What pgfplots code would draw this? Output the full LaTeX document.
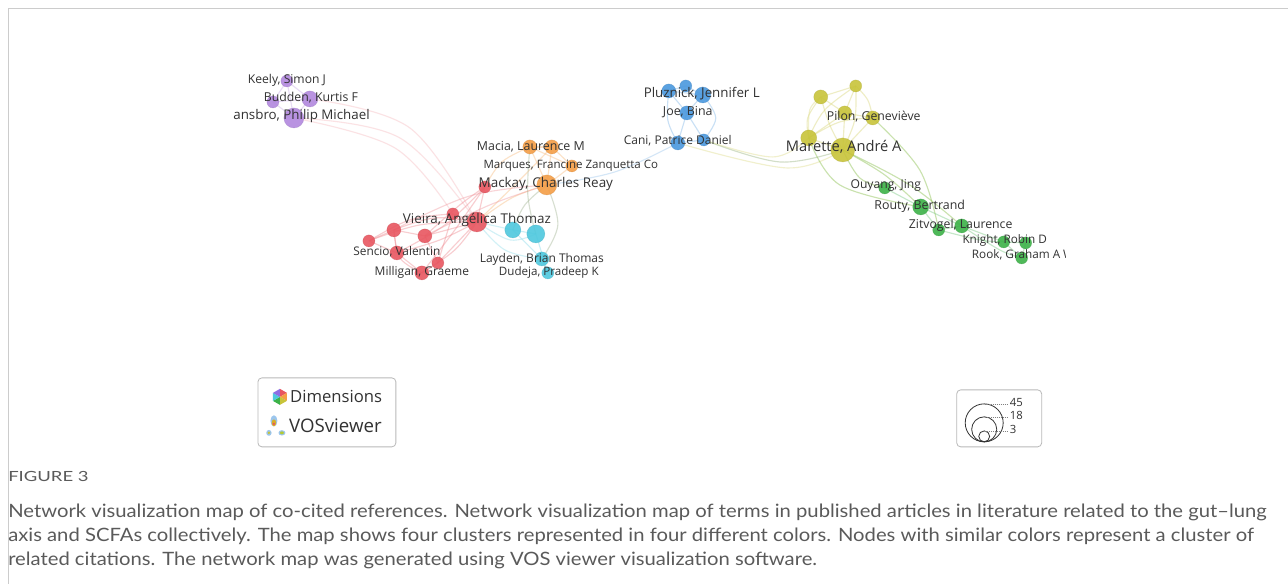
\documentclass[border=0pt]{standalone}
\usepackage{pgfplots}
\pgfplotsset{compat=1.18}
\usepackage{pgfplotstable}
\usepackage{graphicx}
\usepackage{fontspec}
\setmainfont{Open Sans}
\newfontfamily\capfont[FakeStretch=1.1]{Lato}
\definecolor{cred}{RGB}{232,86,96}
\definecolor{corange}{RGB}{245,158,70}
\definecolor{ccyan}{RGB}{78,200,222}
\definecolor{cblue}{RGB}{74,152,222}
\definecolor{cyellow}{RGB}{200,196,58}
\definecolor{cgreen}{RGB}{60,178,72}
\definecolor{cpurple}{RGB}{178,136,222}
\definecolor{lbl}{RGB}{50,50,50}
\definecolor{capgray}{RGB}{90,90,90}

\pgfplotstableread{
x y r
287 81 6
273 102 6
310 99 8
294 118 10
}\tpurple
\pgfplotstableread{
x y r
477 222 10
485 187 6
453 214 6
394 230 7
425 236 7
369 241 6
397 253 7
438 263 6
422 273 7
}\tred
\pgfplotstableread{
x y r
530 147 7
552 147 7
572 166 6
547 185 10
}\torange
\pgfplotstableread{
x y r
513 230 8
536 234 9
542 259 7
548 273 6
}\tcyan
\pgfplotstableread{
x y r
669 91 7
686 86 6
703 95 8
687 113 7
678 143 7
704 140 6
}\tblue
\pgfplotstableread{
x y r
821 97 7
856 86 6
845 113 7
873 118 7
809 138 8
843 150 12
}\tyellow
\pgfplotstableread{
x y r
885 188 6
921 207 8
939 230 6
962 226 7
1004 242 6
1026 243 6
1022 258 6
}\tgreen

\pgfplotsset{
  netnode/.style={scatter, only marks, mark=*,
    scatter/use mapped color={draw=#1!85!black, fill=#1, fill opacity=0.9, draw opacity=0.4},
    point meta=\thisrow{r},
    visualization depends on={\thisrow{r}\as\rr},
    scatter/@pre marker code/.append style={/tikz/mark size=0.75*\rr}},
  edge/.style={#1, line width=0.85pt, opacity=0.42, smooth, no markers, tension=0.6}
}
\newcommand\ed[7]{\addplot[edge=#7] coordinates {(#1,#2) (#3,#4) (#5,#6)};}
\newcommand\es[5]{\addplot[edge=#5] coordinates {(#1,#2) (#3,#4)};}

\begin{document}
\begin{tikzpicture}
\begin{axis}[width=966pt, height=438pt, scale only axis, set layers,
  xmin=0, xmax=1288, ymin=0, ymax=584, y dir=reverse,
  hide axis, clip=false]
\begin{pgfonlayer}{axis background}
\fill[white] (axis cs:0,0) rectangle (axis cs:1288,584);
\draw[gray!40, line width=0.6pt] (axis cs:8,584) -- (axis cs:8,8) -- (axis cs:1288,8);
\end{pgfonlayer}

% ---- edges: purple
\es{287}{81}{310}{99}{cpurple!70}
\es{287}{81}{273}{102}{cpurple!70}
\es{273}{102}{294}{118}{cpurple!70}
\es{310}{99}{294}{118}{cpurple!70}
\es{273}{102}{310}{99}{cpurple!70}
\es{287}{81}{294}{118}{cpurple!70}
% purple -> red
\ed{294}{118}{400}{138}{477}{222}{cred!40}
\ed{310}{99}{410}{128}{477}{222}{cred!40}
\ed{294}{118}{395}{148}{453}{214}{cred!40}
% red internal
\es{477}{222}{485}{187}{cred!70}
\es{477}{222}{453}{214}{cred!70}
\ed{477}{222}{435}{218}{394}{230}{cred!70}
\es{477}{222}{425}{236}{cred!70}
\ed{477}{222}{420}{225}{369}{241}{cred!70}
\ed{477}{222}{440}{240}{397}{253}{cred!70}
\es{477}{222}{438}{263}{cred!70}
\ed{477}{222}{455}{250}{422}{273}{cred!70}
\es{394}{230}{425}{236}{cred!70}
\es{394}{230}{397}{253}{cred!70}
\es{369}{241}{397}{253}{cred!70}
\es{397}{253}{422}{273}{cred!70}
\es{438}{263}{422}{273}{cred!70}
\es{425}{236}{438}{263}{cred!70}
\ed{394}{230}{400}{258}{422}{273}{cred!70}
\ed{369}{241}{410}{220}{453}{214}{cred!70}
\ed{397}{253}{445}{225}{485}{187}{cred!70}
\ed{422}{273}{455}{230}{485}{187}{cred!70}
\es{453}{214}{438}{263}{cred!70}
\es{369}{241}{394}{230}{cred!70}
\ed{425}{236}{460}{205}{485}{187}{cred!70}
% red -> orange / cyan
\ed{477}{222}{512}{198}{547}{185}{corange!70}
\ed{485}{187}{502}{162}{530}{147}{corange!70}
\ed{477}{222}{520}{180}{552}{147}{corange!70}
\ed{394}{230}{470}{196}{547}{185}{cred!60}
\ed{425}{236}{490}{205}{547}{185}{cred!60}
\es{477}{222}{513}{230}{ccyan!60}
\ed{477}{222}{510}{240}{536}{234}{ccyan!60}
\ed{477}{222}{505}{250}{542}{259}{ccyan!60}
% orange internal
\es{530}{147}{552}{147}{corange!70}
\es{530}{147}{547}{185}{corange!70}
\es{552}{147}{547}{185}{corange!70}
\es{572}{166}{547}{185}{corange!70}
\es{530}{147}{572}{166}{corange!70}
\es{552}{147}{572}{166}{corange!70}
% orange -> cyan
\ed{547}{185}{525}{205}{513}{230}{corange!50!ccyan}
\ed{547}{185}{558}{225}{542}{259}{corange!50!ccyan}
\ed{530}{147}{528}{195}{536}{234}{corange!50!ccyan}
% cyan internal
\es{513}{230}{536}{234}{ccyan!70}
\es{513}{230}{542}{259}{ccyan!70}
\es{536}{234}{548}{273}{ccyan!70}
\es{542}{259}{548}{273}{ccyan!70}
% orange -> blue
\ed{547}{185}{615}{172}{678}{143}{cblue!55}
% blue internal
\es{669}{91}{686}{86}{cblue!70}
\es{686}{86}{703}{95}{cblue!70}
\es{669}{91}{703}{95}{cblue!70}
\es{669}{91}{687}{113}{cblue!70}
\es{703}{95}{687}{113}{cblue!70}
\es{687}{113}{678}{143}{cblue!70}
\es{687}{113}{704}{140}{cblue!70}
\es{678}{143}{704}{140}{cblue!70}
\ed{669}{91}{668}{120}{678}{143}{cblue!70}
\ed{703}{95}{716}{118}{704}{140}{cblue!70}
% blue -> yellow
\ed{704}{140}{773}{157}{809}{138}{cyellow!60}
\ed{678}{143}{787}{168}{843}{150}{cyellow!60}
\ed{704}{140}{780}{162}{843}{150}{cblue!40!cyellow}
% yellow internal
\es{821}{97}{856}{86}{cyellow!70}
\es{821}{97}{845}{113}{cyellow!70}
\ed{821}{97}{808}{118}{809}{138}{cyellow!70}
\ed{821}{97}{830}{125}{843}{150}{cyellow!70}
\es{856}{86}{845}{113}{cyellow!70}
\ed{856}{86}{868}{100}{873}{118}{cyellow!70}
\ed{856}{86}{855}{120}{843}{150}{cyellow!70}
\es{845}{113}{873}{118}{cyellow!70}
\es{845}{113}{843}{150}{cyellow!70}
\es{873}{118}{843}{150}{cyellow!70}
\es{809}{138}{843}{150}{cyellow!70}
\es{809}{138}{845}{113}{cyellow!70}
\ed{809}{138}{840}{122}{873}{118}{cyellow!70}
\ed{856}{86}{825}{110}{809}{138}{cyellow!70}
\ed{809}{138}{810}{110}{821}{97}{cyellow!60}
% yellow -> green
\ed{843}{150}{860}{178}{885}{188}{cgreen!50!cyellow}
\ed{843}{150}{885}{175}{921}{207}{cgreen!50!cyellow}
\ed{809}{138}{840}{185}{921}{207}{cgreen!50!cyellow}
\ed{843}{150}{910}{185}{962}{226}{cgreen!50!cyellow}
\ed{873}{118}{920}{170}{939}{230}{cgreen!50!cyellow}
% green internal
\es{885}{188}{921}{207}{cgreen!70}
\es{921}{207}{939}{230}{cgreen!70}
\es{921}{207}{962}{226}{cgreen!70}
\es{939}{230}{962}{226}{cgreen!70}
\es{962}{226}{1004}{242}{cgreen!70}
\ed{939}{230}{980}{240}{1004}{242}{cgreen!70}
\es{1004}{242}{1026}{243}{cgreen!70}
\es{1004}{242}{1022}{258}{cgreen!70}
\es{1026}{243}{1022}{258}{cgreen!70}
\ed{962}{226}{1000}{250}{1022}{258}{cgreen!70}

% ---- nodes
\addplot[netnode=cpurple] table[x=x,y=y] {\tpurple};
\addplot[netnode=cred] table[x=x,y=y] {\tred};
\addplot[netnode=corange] table[x=x,y=y] {\torange};
\addplot[netnode=ccyan] table[x=x,y=y] {\tcyan};
\addplot[netnode=cblue] table[x=x,y=y] {\tblue};
\addplot[netnode=cyellow] table[x=x,y=y] {\tyellow};
\addplot[netnode=cgreen] table[x=x,y=y] {\tgreen};

% ---- labels (on top of the nodes)
\begin{pgfonlayer}{axis foreground}
\begin{scope}[every node/.style={text=lbl, inner sep=0pt}]
\node[font=\fontsize{9.1}{10}\selectfont] at (axis cs:287,80) {Keely, Simon J};
\node[font=\fontsize{9.2}{10}\selectfont] at (axis cs:311,98) {Budden, Kurtis F};
\begin{scope}
\clip (axis cs:234,60) rectangle (axis cs:400,140);
\node[anchor=east, font=\fontsize{10}{11}\selectfont] at (axis cs:370,116) {Hansbro, Philip Michael};
\end{scope}
\node[font=\fontsize{9.3}{10}\selectfont] at (axis cs:531,147) {Macia, Laurence M};
\node[font=\fontsize{8.65}{10}\selectfont] at (axis cs:571,166) {Marques, Francine Zanquetta Co};
\node[font=\fontsize{10.1}{11}\selectfont] at (axis cs:546,184) {Mackay, Charles Reay};
\node[font=\fontsize{10.1}{11}\selectfont] at (axis cs:477,220) {Vieira, Angélica Thomaz};
\node[font=\fontsize{8.9}{10}\selectfont] at (axis cs:397,252) {Sencio, Valentin};
\node[font=\fontsize{9}{10}\selectfont] at (axis cs:422,272) {Milligan, Graeme};
\node[font=\fontsize{9}{10}\selectfont] at (axis cs:542,259) {Layden, Brian Thomas};
\node[font=\fontsize{8.7}{10}\selectfont] at (axis cs:549,273) {Dudeja, Pradeep K};
\node[font=\fontsize{10}{11}\selectfont] at (axis cs:702,94) {Pluznick, Jennifer L};
\node[font=\fontsize{9.3}{10}\selectfont] at (axis cs:688,112) {Joe, Bina};
\node[font=\fontsize{9}{10}\selectfont] at (axis cs:678,141) {Cani, Patrice Daniel};
\node[font=\fontsize{9.2}{10}\selectfont] at (axis cs:874,117) {Pilon, Geneviève};
\node[font=\fontsize{11}{12}\selectfont] at (axis cs:844,147) {Marette, André A};
\node[font=\fontsize{9.1}{10}\selectfont] at (axis cs:886,186) {Ouyang, Jing};
\node[font=\fontsize{9.3}{10}\selectfont] at (axis cs:920,206) {Routy, Bertrand};
\node[font=\fontsize{9.2}{10}\selectfont] at (axis cs:961,225) {Zitvogel, Laurence};
\node[font=\fontsize{8.8}{10}\selectfont] at (axis cs:1005,241) {Knight, Robin D};
\begin{scope}
\clip (axis cs:960,245) rectangle (axis cs:1066,265);
\node[anchor=west, font=\fontsize{8.8}{10}\selectfont] at (axis cs:972,255) {Rook, Graham A W};
\end{scope}
\end{scope}

% ---- logo box
\draw[gray!55, line width=0.6pt, rounded corners=3pt] (axis cs:258,378) rectangle (axis cs:396,447);
\fill[cred] (axis cs:280,397) -- (axis cs:280,389) -- (axis cs:287,393) -- cycle;
\fill[corange] (axis cs:280,397) -- (axis cs:287,393) -- (axis cs:287,401) -- cycle;
\fill[cyellow] (axis cs:280,397) -- (axis cs:287,401) -- (axis cs:280,405) -- cycle;
\fill[cgreen] (axis cs:280,397) -- (axis cs:280,405) -- (axis cs:273,401) -- cycle;
\fill[ccyan] (axis cs:280,397) -- (axis cs:273,401) -- (axis cs:273,393) -- cycle;
\fill[cpurple!80!blue] (axis cs:280,397) -- (axis cs:273,393) -- (axis cs:280,389) -- cycle;
\node[anchor=west, inner sep=0pt, text=lbl, font=\fontsize{12.5}{14}\selectfont] at (axis cs:290,397) {Dimensions};
\fill[cblue!55] (axis cs:274,421) ellipse (2.6pt and 4.2pt);
\fill[cyellow!70!orange] (axis cs:274,423) ellipse (1.7pt and 2.6pt);
\fill[cred] (axis cs:274,424) circle (1pt);
\fill[cblue!55] (axis cs:282,433) ellipse (2.6pt and 2pt);
\fill[cyellow!90!green] (axis cs:282,433) ellipse (1.5pt and 1.1pt);
\fill[cblue!55] (axis cs:269,433) ellipse (2pt and 2.2pt);
\fill[cyellow] (axis cs:269,433) circle (1.1pt);
\node[anchor=west, inner sep=0pt, text=lbl, font=\fontsize{14}{16}\selectfont] at (axis cs:289,426) {VOSviewer};

% ---- size legend
\draw[gray!55, line width=0.6pt, rounded corners=3pt] (axis cs:957,390) rectangle (axis cs:1042,447);
\draw[black!80, line width=0.6pt] (axis cs:984.5,423) circle (14.25pt);
\draw[black!80, line width=0.6pt] (axis cs:984.5,429.5) circle (9.4pt);
\draw[black!80, line width=0.6pt] (axis cs:984.5,436.5) circle (4.1pt);
\draw[gray, densely dotted, line width=0.5pt] (axis cs:985,404) -- (axis cs:1008,404);
\draw[gray, densely dotted, line width=0.5pt] (axis cs:985,417) -- (axis cs:1008,417);
\draw[gray, densely dotted, line width=0.5pt] (axis cs:985,431) -- (axis cs:1008,431);
\node[anchor=west, inner sep=0pt, text=lbl, font=\fontsize{8.5}{9}\selectfont] at (axis cs:1010,403) {45};
\node[anchor=west, inner sep=0pt, text=lbl, font=\fontsize{8.5}{9}\selectfont] at (axis cs:1010,416) {18};
\node[anchor=west, inner sep=0pt, text=lbl, font=\fontsize{8.5}{9}\selectfont] at (axis cs:1010,430) {3};

% ---- caption
\node[anchor=base west, inner sep=0pt, text=capgray, font=\capfont\fontsize{10.5}{12}\selectfont] at (axis cs:8,482) {\scalebox{1.2}[1]{FIGURE 3}};
\begin{scope}[every node/.style={anchor=base west, inner sep=0pt, text=capgray, font=\capfont\fontsize{13.8}{16}\selectfont}]
\node at (axis cs:8,518) {Network visualization map of co-cited references. Network visualization map of terms in published articles in literature related to the gut–lung};
\node at (axis cs:8,542) {axis and SCFAs collectively. The map shows four clusters represented in four different colors. Nodes with similar colors represent a cluster of};
\node at (axis cs:8,566) {related citations. The network map was generated using VOS viewer visualization software.};
\end{scope}
\end{pgfonlayer}
\end{axis}
\end{tikzpicture}
\end{document}
